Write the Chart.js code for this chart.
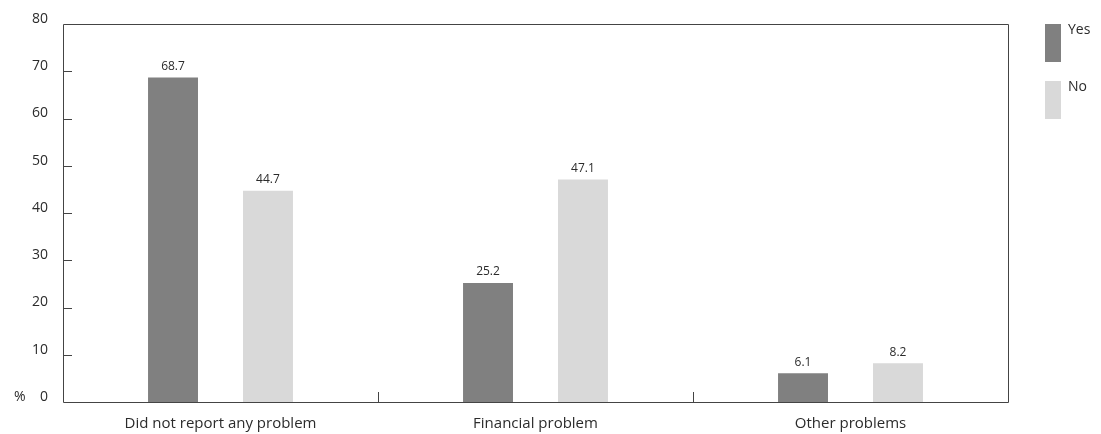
<!DOCTYPE html>
<html>
<head>
<meta charset="utf-8">
<script src="https://cdn.jsdelivr.net/npm/chart.js@4/dist/chart.umd.min.js"></script>
<style>
  html, body { margin: 0; padding: 0; background: #fff; }
  #wrap { width: 1101px; height: 434px; position: relative; }
</style>
</head>
<body>
<div id="wrap"><canvas id="c"></canvas></div>
<script>
// Categories and series
const categories = ['Did not report any problem', 'Financial problem', 'Other problems'];
const seriesNames = ['Yes', 'No'];
const yesValues = [68.7, 25.2, 6.1];
const noValues = [44.7, 47.1, 8.2];
const yTicks = [0, 10, 20, 30, 40, 50, 60, 70, 80];

const FONT = "'Open Sans', 'Lato', sans-serif";
const TEXT = '#2b2b2b';
const AXIS = '#444';
const colors = ['#808080', '#d9d9d9'];

// Frame, inward tick marks, value labels and a side legend
const decorations = {
  id: 'decorations',
  afterDatasetsDraw(chart) {
    const { ctx, chartArea: a, scales: { x, y } } = chart;
    ctx.save();
    ctx.strokeStyle = AXIS;
    ctx.lineWidth = 1;
    ctx.beginPath();
    ctx.rect(Math.round(a.left) + 0.5, Math.round(a.top) + 0.5,
             Math.round(a.right - a.left), Math.round(a.bottom - a.top));
    ctx.stroke();

    // y ticks pointing into the plot
    ctx.beginPath();
    yTicks.forEach(v => {
      if (v === 0 || v === 80) return;
      const py = Math.round(y.getPixelForValue(v)) + 0.5;
      ctx.moveTo(a.left, py);
      ctx.lineTo(a.left + 9, py);
    });
    // category separators on x axis
    for (let i = 1; i < categories.length; i++) {
      const px = Math.round((x.getPixelForValue(i - 1) + x.getPixelForValue(i)) / 2) + 0.5;
      ctx.moveTo(px, a.bottom);
      ctx.lineTo(px, a.bottom - 10);
    }
    ctx.stroke();

    // value labels
    ctx.fillStyle = TEXT;
    ctx.font = `12px ${FONT}`;
    ctx.textAlign = 'center';
    ctx.textBaseline = 'bottom';
    chart.data.datasets.forEach((ds, di) => {
      const meta = chart.getDatasetMeta(di);
      meta.data.forEach((bar, i) => {
        ctx.fillText(ds.data[i].toFixed(1), bar.x, bar.y - 5);
      });
    });

    // legend
    ctx.font = `14px ${FONT}`;
    ctx.textAlign = 'left';
    ctx.textBaseline = 'middle';
    chart.data.datasets.forEach((ds, di) => {
      const top = 24 + di * 57;
      ctx.fillStyle = ds.backgroundColor;
      ctx.fillRect(1045, top, 16, 38);
      ctx.fillStyle = TEXT;
      ctx.fillText(ds.label, 1068, top + 6);
    });
    ctx.restore();
  }
};

new Chart(document.getElementById('c'), {
  type: 'bar',
  data: {
    labels: categories,
    datasets: [
      { label: seriesNames[0], data: yesValues, backgroundColor: colors[0] },
      { label: seriesNames[1], data: noValues, backgroundColor: colors[1] }
    ]
  },
  options: {
    responsive: true,
    maintainAspectRatio: false,
    animation: false,
    layout: { padding: { left: 0, right: 93, top: 24, bottom: 0 } },
    datasets: { bar: { categoryPercentage: 0.603, barPercentage: 0.526 } },
    plugins: { legend: { display: false }, tooltip: { enabled: false } },
    scales: {
      x: {
        afterFit(s) { s.height = 32; },
        grid: { display: false, drawTicks: false },
        border: { display: false },
        ticks: { color: TEXT, font: { family: FONT, size: 15 }, padding: 13, maxRotation: 0 }
      },
      y: {
        min: 0, max: 80,
        afterBuildTicks(s) { s.ticks = yTicks.map(v => ({ value: v })); },
        afterFit(s) { s.width = 63; },
        grid: { display: false, drawTicks: false },
        border: { display: false },
        ticks: {
          color: TEXT, font: { family: FONT, size: 14 }, padding: 15, labelOffset: -5,
          callback: v => (v === 0 ? '%    0' : String(v))
        }
      }
    }
  },
  plugins: [decorations]
});
</script>
</body>
</html>
